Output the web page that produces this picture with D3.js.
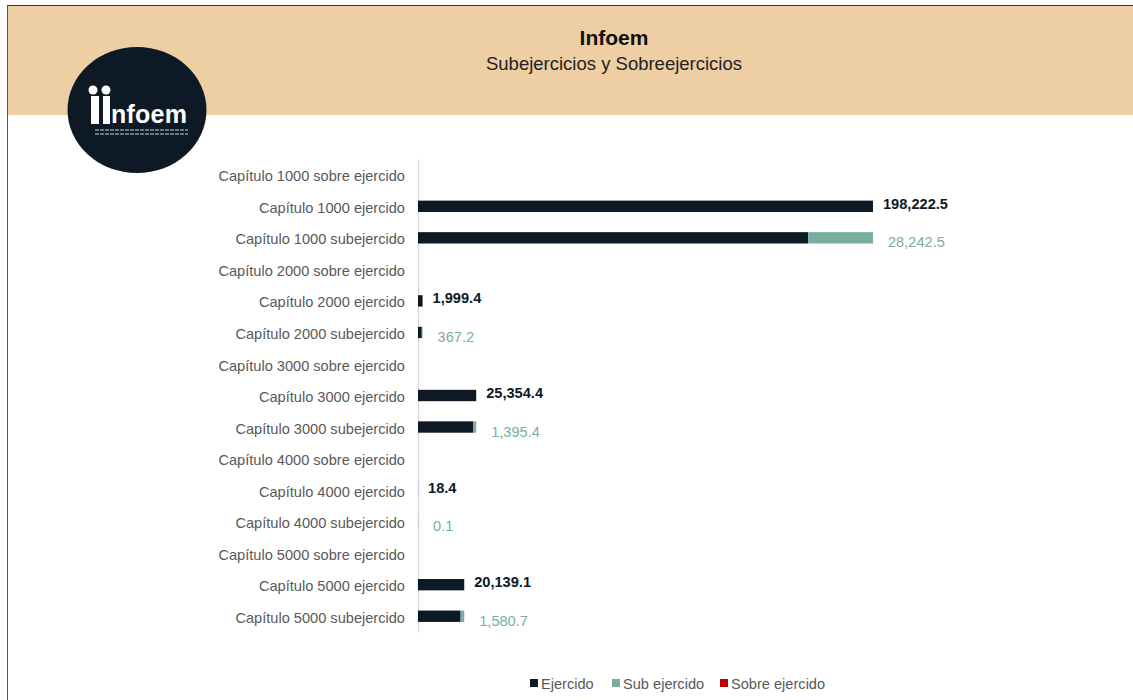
<!DOCTYPE html>
<html>
<head>
<meta charset="utf-8">
<script src="https://cdn.jsdelivr.net/npm/d3@7"></script>
<style>
  body { margin: 0; background: #fff; }
  text { font-family: "Liberation Sans", Arial, sans-serif; }
</style>
</head>
<body>
<div id="chart"></div>
<script>
(function() {
    var width = 1133,
        height = 700;

    // data
    var capitulos = ["1000", "2000", "3000", "4000", "5000"];
    var ejercido = [198222.5, 1999.4, 25354.4, 18.4, 20139.1];
    var subejercido = [28242.5, 367.2, 1395.4, 0.1, 1580.7];
    var sobreejercido = [0, 0, 0, 0, 0];
    var legendLabels = ["Ejercido", "Sub ejercido", "Sobre ejercido"];

    var colors = { ej: "#0d1a25", sub: "#7aaea0", sobre: "#c00000" };
    var fs = 14.6;

    var rows = [];
    capitulos.forEach(function(c, i) {
        rows.push({ key: "Capítulo " + c + " sobre ejercido", type: "sobre", i: i });
        rows.push({ key: "Capítulo " + c + " ejercido", type: "ej", i: i });
        rows.push({ key: "Capítulo " + c + " subejercido", type: "sub", i: i });
    });

    var svg = d3.select("#chart")
        .append("svg")
        .attr("width", width)
        .attr("height", height);

    // frame + header band
    svg.append("rect").attr("x", 7).attr("y", 5).attr("width", width - 7).attr("height", 110).attr("fill", "#eecea3");
    svg.append("line").attr("x1", 7).attr("x2", width).attr("y1", 5.5).attr("y2", 5.5).attr("stroke", "#27403a").attr("stroke-width", 1);
    svg.append("line").attr("x1", 7.5).attr("x2", 7.5).attr("y1", 5).attr("y2", height).attr("stroke", "#555").attr("stroke-width", 1);

    svg.append("text").attr("x", 614).attr("y", 45).attr("text-anchor", "middle")
        .attr("font-size", 21).attr("font-weight", "bold").attr("fill", "#111").text("Infoem");
    svg.append("text").attr("x", 614).attr("y", 70).attr("text-anchor", "middle")
        .attr("font-size", 18.5).attr("fill", "#222").text("Subejercicios y Sobreejercicios");

    // logo
    var logo = svg.append("g").attr("transform", "translate(137,110)");
    logo.append("ellipse").attr("rx", 69.5).attr("ry", 63).attr("fill", "#0d1a25");
    logo.append("circle").attr("cx", -44).attr("cy", -20).attr("r", 4.5).attr("fill", "#fff");
    logo.append("circle").attr("cx", -31).attr("cy", -20).attr("r", 4.5).attr("fill", "#fff");
    logo.append("rect").attr("x", -46).attr("y", -14).attr("width", 8).attr("height", 28).attr("fill", "#fff");
    logo.append("rect").attr("x", -34).attr("y", -14).attr("width", 7).attr("height", 28).attr("fill", "#fff");
    logo.append("text").attr("x", -26).attr("y", 13).attr("font-size", 25).attr("font-weight", "bold")
        .attr("fill", "#fff").attr("textLength", 76).text("nfoem");
    [20, 24].forEach(function(yy) {
        logo.append("line").attr("x1", -42).attr("x2", 51).attr("y1", yy).attr("y2", yy)
            .attr("stroke", "#cfd3d6").attr("stroke-width", 1.2).attr("stroke-dasharray", "4,1");
    });

    // scales
    var x = d3.scaleLinear()
        .domain([0, d3.max(ejercido)])
        .range([418, 873]);

    var y = d3.scaleBand()
        .domain(rows.map(function(d) { return d.key; }))
        .range([159, 632])
        .paddingInner(0.64)
        .paddingOuter(0.32);

    var bh = y.bandwidth();

    // axis
    var yAxis = d3.axisLeft(y).tickSize(0).tickPadding(13);
    var ag = svg.append("g").attr("transform", "translate(418,0)").call(yAxis);
    ag.select(".domain").attr("stroke", "#d9d9d9").attr("stroke-width", 1.5);
    ag.selectAll("text").attr("font-size", fs).attr("fill", "#595959").attr("dy", "0.45em")
        .style("font-family", "'Liberation Sans', Arial, sans-serif");

    // bars
    var g = svg.append("g");
    rows.forEach(function(r) {
        var yc = y(r.key);
        if (r.type === "ej") {
            var v = ejercido[r.i];
            g.append("rect").attr("x", x(0)).attr("y", yc).attr("width", x(v) - x(0)).attr("height", bh).attr("fill", colors.ej);
            g.append("text").attr("x", x(v) + 10).attr("y", yc + bh / 2 + 2.5)
                .attr("font-size", fs).attr("font-weight", "bold").attr("fill", colors.ej)
                .text(d3.format(",.1f")(v));
        } else if (r.type === "sub") {
            var s = subejercido[r.i],
                base = ejercido[r.i] - s;
            g.append("rect").attr("x", x(0)).attr("y", yc).attr("width", x(base) - x(0)).attr("height", bh).attr("fill", colors.ej);
            g.append("rect").attr("x", x(base)).attr("y", yc).attr("width", x(base + s) - x(base)).attr("height", bh).attr("fill", colors.sub);
            g.append("text").attr("x", x(base + s) + 15).attr("y", yc + bh / 2 + 9.5)
                .attr("font-size", fs).attr("fill", colors.sub)
                .text(d3.format(",.1f")(s));
        } else {
            var o = sobreejercido[r.i];
            if (o > 0) {
                g.append("rect").attr("x", x(0)).attr("y", yc).attr("width", x(o) - x(0)).attr("height", bh).attr("fill", colors.sobre);
            }
        }
    });

    // legend
    var lg = svg.append("g").attr("transform", "translate(530,683)");
    var offs = [0, 82, 190];
    var lc = [colors.ej, colors.sub, colors.sobre];
    legendLabels.forEach(function(l, i) {
        lg.append("rect").attr("x", offs[i]).attr("y", -4).attr("width", 8).attr("height", 8).attr("fill", lc[i]);
        lg.append("text").attr("x", offs[i] + 11).attr("y", 5.5).attr("font-size", fs).attr("fill", "#595959").text(l);
    });
})();
</script>
</body>
</html>
